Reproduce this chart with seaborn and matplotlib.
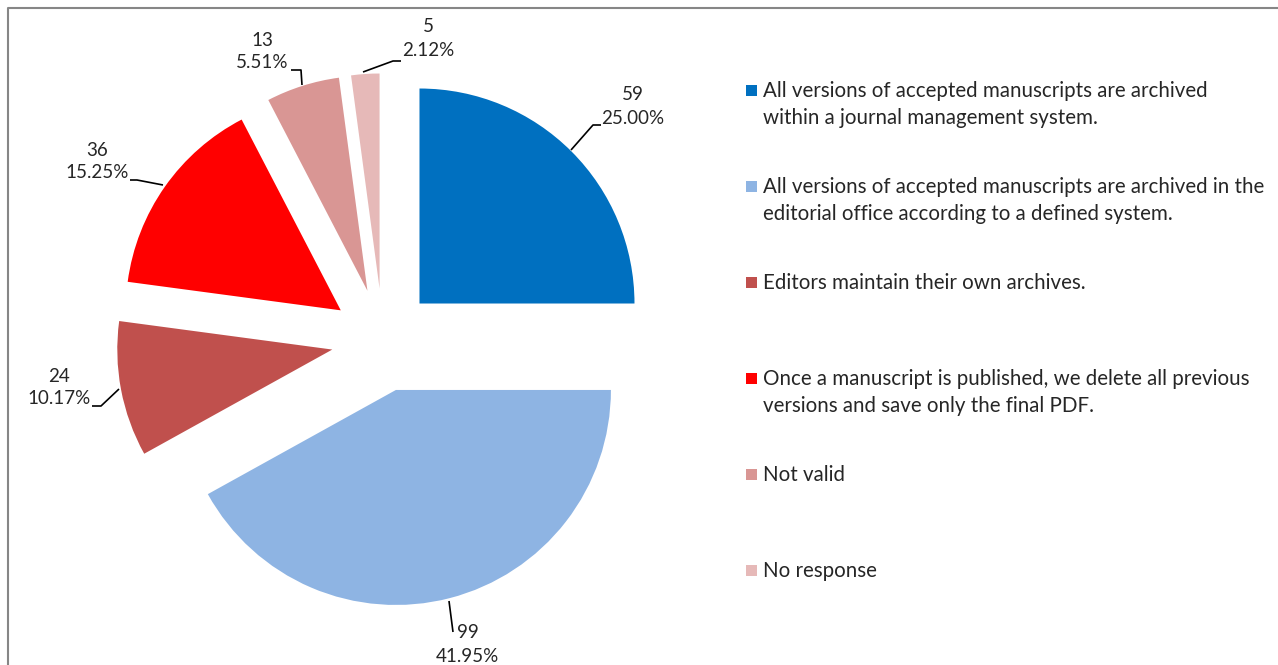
import matplotlib
matplotlib.use("Agg")
import matplotlib.pyplot as plt
import seaborn as sns
from matplotlib.patches import Rectangle

# survey answers, in the order drawn (clockwise from 12 o'clock)
categories = [
    "All versions of accepted manuscripts are archived\nwithin a journal management system.",
    "All versions of accepted manuscripts are archived in the\neditorial office according to a defined system.",
    "Editors maintain their own archives.",
    "Once a manuscript is published, we delete all previous\nversions and save only the final PDF.",
    "Not valid",
    "No response",
]
counts = [59, 99, 24, 36, 13, 5]
slice_colors = ["#0070C0", "#8EB4E3", "#C0504D", "#FF0000", "#D99694", "#E6B9B8"]

W, H = 1278, 665


def py(y):
    # pixel row (top-down) to data y (bottom-up)
    return H - y


sns.set_theme(style="white")
plt.rcParams["font.family"] = ["Lato", "DejaVu Sans"]

fig = plt.figure(figsize=(W / 100, H / 100), dpi=100)
ax = fig.add_axes([0, 0, 1, 1])

palette = sns.color_palette(slice_colors)
total = sum(counts)
radius = 215
ax.pie(
    counts,
    colors=palette,
    startangle=90,
    counterclock=False,
    explode=[0.24 * radius] * len(counts),
    radius=radius,
    center=(383, py(340)),
    wedgeprops={"linewidth": 0},
)
ax.set_xlim(0, W)
ax.set_ylim(0, H)
ax.set_aspect("equal")
ax.axis("off")

# data labels with leader lines (label centre, leader polyline)
label_spots = [
    ((633, 95), [(571, 150), (593, 125), (601, 125)]),
    ((468, 632), [(449, 601), (453, 632)]),
    ((59, 376), [(119, 389), (101, 406), (92, 406)]),
    ((97, 150), [(163, 185), (137, 180), (130, 180)]),
    ((262, 40), [(302, 85), (301, 70), (291, 70)]),
    ((428, 27), [(363, 72), (393, 61), (401, 61)]),
]
lab_kw = dict(fontsize=13.5, color="#262626", ha="center", va="center")
for n, ((lx, ly), pts) in zip(counts, label_spots):
    pct = f"{100 * n / total:.2f}%"
    ax.text(lx, py(ly), f"{n}", **lab_kw)
    if n == 99:
        ax.text(lx - 1, py(ly + 25), pct, **lab_kw)
    else:
        ax.text(lx, py(ly + 23), pct, **lab_kw)
    xs = [p[0] for p in pts]
    ys = [py(p[1]) for p in pts]
    ax.plot(xs, ys, color="black", lw=1.2, solid_capstyle="butt")

# legend drawn by hand: one square + text per answer, 96 px apart
for i, (lab, col) in enumerate(zip(categories, palette)):
    y0 = 91 + 96 * i
    ax.add_patch(Rectangle((746, py(y0 + 5)), 11, 11, color=col, lw=0))
    ax.text(763, py(y0 - 10), lab, fontsize=14.8, color="#262626",
            ha="left", va="top", linespacing=1.42)

# chart area border (top and left edges visible)
ax.plot([8, 8, W], [0, py(8), py(8)], color="#868686", lw=1.5)

fig.savefig("out.png", dpi=100)
